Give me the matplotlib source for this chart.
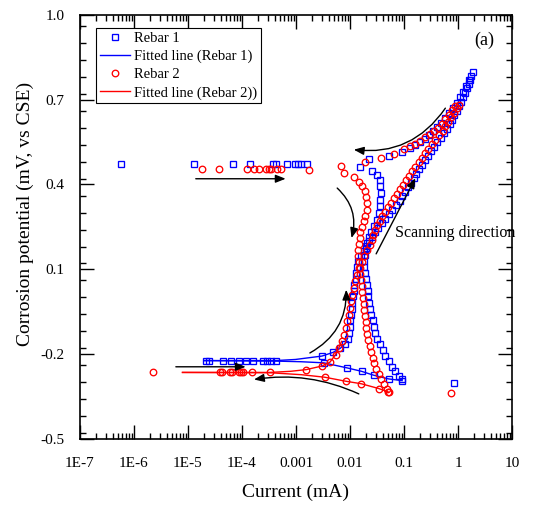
import numpy as np
import matplotlib
matplotlib.use("Agg")
import matplotlib.pyplot as plt
from matplotlib.ticker import FixedLocator, FixedFormatter, LogLocator, MultipleLocator, NullFormatter

plt.rcParams['font.family'] = ['Liberation Serif', 'DejaVu Serif']
plt.rcParams['axes.unicode_minus'] = False

# ---------------- data (log10 of current in mA, potential in V) ----------------
# Rebar 1
r1_passive_logi = [-6.242, -4.887, -4.172, -3.845, -3.432, -3.371, -3.168, -3.026, -2.965, -2.902, -2.798]
r1_passive_pot = [0.474] * 11
r1_flat_logi = [-4.671, -4.610, -4.351, -4.196, -4.055, -3.919, -3.789, -3.604, -3.530, -3.457, -3.377]
r1_flat_pot = [-0.224] * 11
r1_low_logi = [-2.484, -2.052, -1.787, -1.560, -1.283, -1.035, -0.081]
r1_low_pot = [-0.232, -0.250, -0.262, -0.276, -0.289, -0.295, -0.303]
r1_fwd_logi = [-2.518, -2.314, -2.176, -2.092, -2.046, -2.022, -2.004, -1.991, -1.978, -1.967, -1.954, -1.941,
               -1.930, -1.917, -1.898, -1.880, -1.867, -1.843, -1.797, -1.750, -1.695, -1.640, -1.584, -1.529,
               -1.479, -1.408, -1.344, -1.279, -1.214, -1.140, -1.081, -1.030, -0.978, -0.928, -0.876, -0.824,
               -0.771, -0.719, -0.665, -0.610, -0.555, -0.499, -0.444, -0.383, -0.322, -0.261, -0.198, -0.150,
               -0.109, -0.068, -0.026, 0.015, 0.052, 0.089, 0.126, 0.163, 0.200, 0.224, 0.248, 0.270]
r1_fwd_pot = [-0.208, -0.195, -0.180, -0.164, -0.146, -0.125, -0.104, -0.082, -0.061, -0.040, -0.019, 0.003,
              0.024, 0.045, 0.066, 0.087, 0.109, 0.128, 0.148, 0.165, 0.183, 0.199, 0.215, 0.231,
              0.247, 0.263, 0.278, 0.294, 0.310, 0.326, 0.342, 0.358, 0.374, 0.390, 0.406, 0.422,
              0.438, 0.454, 0.469, 0.485, 0.501, 0.517, 0.533, 0.549, 0.565, 0.581, 0.597, 0.613,
              0.629, 0.645, 0.660, 0.676, 0.692, 0.708, 0.724, 0.740, 0.756, 0.770, 0.784, 0.798]
r1_rev_logi = [0.209, 0.153, 0.098, 0.043, -0.022, -0.087, -0.161, -0.235, -0.309, -0.383, -0.457, -0.530,
               -0.604, -0.697, -0.789, -0.882, -1.035, -1.283, -1.652, -1.819, -1.590, -1.497, -1.449, -1.436,
               -1.427, -1.436, -1.449, -1.468, -1.497, -1.547, -1.603, -1.649, -1.682, -1.704, -1.723, -1.732,
               -1.732, -1.723, -1.704, -1.686, -1.671, -1.658, -1.640, -1.621, -1.603, -1.579, -1.556, -1.529,
               -1.492, -1.449, -1.394, -1.344, -1.283, -1.220, -1.159, -1.098, -1.035]
r1_rev_pot = [0.770, 0.749, 0.728, 0.708, 0.689, 0.671, 0.653, 0.636, 0.618, 0.602, 0.588, 0.574,
              0.561, 0.549, 0.538, 0.530, 0.516, 0.499, 0.490, 0.461, 0.448, 0.434, 0.416, 0.393,
              0.369, 0.346, 0.322, 0.299, 0.275, 0.251, 0.233, 0.213, 0.194, 0.173, 0.151, 0.130,
              0.109, 0.087, 0.066, 0.045, 0.024, 0.003, -0.019, -0.040, -0.061, -0.082, -0.104, -0.125,
              -0.146, -0.167, -0.188, -0.208, -0.227, -0.245, -0.261, -0.277, -0.291]
r1_fit_a_logi = [-4.708, -3.377, -3.007, -2.518, -2.314, -2.176, -2.092, -2.046]
r1_fit_a_pot = [-0.224, -0.224, -0.220, -0.208, -0.195, -0.180, -0.164, -0.146]
r1_fit_b_logi = [-4.708, -3.346, -2.915, -2.484, -2.052, -1.787, -1.560, -1.283, -1.035]
r1_fit_b_pot = [-0.224, -0.226, -0.228, -0.232, -0.250, -0.262, -0.276, -0.289, -0.295]

# Rebar 2
r2_passive_logi = [-4.745, -4.418, -3.913, -3.778, -3.678, -3.549, -3.506, -3.464, -3.346, -3.285, -2.754]
r2_passive_pot = [0.455, 0.455, 0.455, 0.455, 0.455, 0.455, 0.455, 0.455, 0.455, 0.455, 0.452]
r2_flat_logi = [-5.645, -4.407, -4.375, -4.222, -4.177, -4.055, -4.011, -3.974, -3.808, -3.488,
                -2.810, -2.514, -2.373]
r2_flat_pot = [-0.266, -0.266, -0.266, -0.266, -0.266, -0.266, -0.266, -0.266, -0.266, -0.266,
               -0.256, -0.243, -0.230]
r2_low_logi = [-2.466, -2.083, -1.793, -1.468, -1.294, -0.124]
r2_low_pot = [-0.283, -0.297, -0.306, -0.323, -0.335, -0.338]
r2_fwd_logi = [-2.268, -2.207, -2.157, -2.115, -2.083, -2.052, -2.022, -2.004, -1.978, -1.954, -1.930, -1.904,
               -1.871, -1.834, -1.787, -1.732, -1.677, -1.630, -1.593, -1.566, -1.538, -1.492, -1.445, -1.399,
               -1.349, -1.298, -1.246, -1.190, -1.135, -1.079, -1.024, -0.965, -0.906, -0.848, -0.789, -0.730,
               -0.671, -0.612, -0.549, -0.486, -0.420, -0.351, -0.287, -0.235, -0.181, -0.129, -0.076, -0.024, 0.011]
r2_fwd_pot = [-0.203, -0.179, -0.156, -0.132, -0.108, -0.085, -0.061, -0.037, -0.014, 0.010, 0.033, 0.057,
              0.080, 0.103, 0.126, 0.148, 0.169, 0.186, 0.204, 0.222, 0.240, 0.255, 0.271, 0.287,
              0.303, 0.319, 0.335, 0.351, 0.367, 0.383, 0.399, 0.415, 0.431, 0.446, 0.462, 0.478,
              0.494, 0.510, 0.526, 0.542, 0.558, 0.574, 0.590, 0.606, 0.622, 0.637, 0.653, 0.669, 0.682]
r2_rev_logi = [-0.050, -0.111, -0.174, -0.235, -0.299, -0.373, -0.447, -0.521, -0.604, -0.697, -0.789, -0.882,
               -1.006, -1.190, -1.423, -1.713, -2.163, -2.115, -1.930, -1.837, -1.774, -1.726, -1.695, -1.682,
               -1.682, -1.713, -1.745, -1.778, -1.806, -1.824, -1.837, -1.843, -1.843, -1.837, -1.824, -1.811,
               -1.800, -1.787, -1.774, -1.763, -1.750, -1.736, -1.721, -1.708, -1.695, -1.677, -1.658, -1.634,
               -1.608, -1.579, -1.547, -1.510, -1.468, -1.421, -1.372, -1.316, -1.270]
r2_rev_pot = [0.676, 0.662, 0.646, 0.630, 0.614, 0.600, 0.588, 0.577, 0.567, 0.554, 0.544, 0.535,
              0.525, 0.507, 0.493, 0.478, 0.466, 0.439, 0.426, 0.410, 0.393, 0.375, 0.357, 0.334,
              0.310, 0.287, 0.269, 0.250, 0.231, 0.209, 0.188, 0.167, 0.146, 0.125, 0.103, 0.082,
              0.061, 0.040, 0.018, -0.003, -0.024, -0.045, -0.066, -0.088, -0.109, -0.130, -0.151, -0.173,
              -0.194, -0.215, -0.234, -0.254, -0.273, -0.291, -0.307, -0.323, -0.335]
r2_fit_a_logi = [-5.102, -3.488, -3.100, -2.810, -2.514, -2.373, -2.268, -2.207, -2.157]
r2_fit_a_pot = [-0.266, -0.266, -0.262, -0.256, -0.243, -0.230, -0.203, -0.179, -0.156]
r2_fit_b_logi = [-5.102, -3.488, -2.900, -2.466, -2.083, -1.793, -1.468, -1.294]
r2_fit_b_pot = [-0.266, -0.267, -0.274, -0.283, -0.297, -0.306, -0.323, -0.335]

x_ticks = [1e-7, 1e-6, 1e-5, 1e-4, 1e-3, 1e-2, 1e-1, 1, 10]
x_tick_labels = ["1E-7", "1E-6", "1E-5", "1E-4", "0.001", "0.01", "0.1", "1", "10"]
y_ticks = [-0.5, -0.2, 0.1, 0.4, 0.7, 1.0]
y_tick_labels = ["-0.5", "-0.2", "0.1", "0.4", "0.7", "1.0"]

# arrows: (tail_logi, tail_pot, head_logi, head_pot, rad)
arrows = [
    (-0.234, 0.670, -1.930, 0.523, -0.3),
    (-4.856, 0.420, -3.192, 0.420, 0.0),
    (-2.237, 0.387, -1.972, 0.210, -0.3),
    (-1.516, 0.154, -0.789, 0.422, 0.0),
    (-2.743, -0.197, -2.070, 0.027, 0.3),
    (-5.225, -0.246, -3.932, -0.246, 0.0),
    (-1.837, -0.342, -3.778, -0.291, 0.15),
]

# ---------------- figure ----------------
fig = plt.figure(figsize=(5.39, 5.11), dpi=100)
ax = fig.add_axes([80 / 539, (511 - 438.5) / 511, (512 - 80) / 539, (438.5 - 15) / 511])

blue = '#0000ff'
red = '#ff0000'
sq = dict(marker='s', ms=4.3, mfc='none', mec=blue, mew=0.95, ls='none')
ci = dict(marker='o', ms=4.7, mfc='none', mec=red, mew=0.95, ls='none')

def p(v):
    return 10 ** np.asarray(v)

# Rebar 1
l1, = ax.plot(p(r1_fit_a_logi), r1_fit_a_pot, color=blue, lw=1.0)
ax.plot(p(r1_fit_b_logi), r1_fit_b_pot, color=blue, lw=1.0)
m1, = ax.plot(p(r1_fwd_logi), r1_fwd_pot, **sq)
ax.plot(p(r1_rev_logi), r1_rev_pot, **sq)
ax.plot(p(r1_passive_logi), r1_passive_pot, **sq)
ax.plot(p(r1_flat_logi), r1_flat_pot, **sq)
ax.plot(p(r1_low_logi), r1_low_pot, **sq)

# Rebar 2
l2, = ax.plot(p(r2_fit_a_logi), r2_fit_a_pot, color=red, lw=1.0)
ax.plot(p(r2_fit_b_logi), r2_fit_b_pot, color=red, lw=1.0)
m2, = ax.plot(p(r2_fwd_logi), r2_fwd_pot, **ci)
ax.plot(p(r2_rev_logi), r2_rev_pot, **ci)
ax.plot(p(r2_passive_logi), r2_passive_pot, **ci)
ax.plot(p(r2_flat_logi), r2_flat_pot, **ci)
ax.plot(p(r2_low_logi), r2_low_pot, **ci)

for tx, ty, hx, hy, rad in arrows:
    ax.annotate('', xy=(10 ** hx, hy), xytext=(10 ** tx, ty),
                arrowprops=dict(arrowstyle='-|>,head_length=0.5,head_width=0.2', color='black', lw=1.0,
                                mutation_scale=12, shrinkA=0, shrinkB=0,
                                connectionstyle=f'arc3,rad={rad}'))

ax.text(10 ** -1.159, 0.228, 'Scanning direction', fontsize=11.5, ha='left', va='center')
ax.text(10 ** 0.486, 0.909, '(a)', fontsize=13, ha='center', va='center')

ax.set_xscale('log')
ax.set_xlim(1e-7, 10)
ax.set_ylim(-0.5, 1.0)
ax.xaxis.set_major_locator(FixedLocator(x_ticks))
ax.xaxis.set_major_formatter(FixedFormatter(x_tick_labels))
ax.xaxis.set_minor_locator(LogLocator(base=10, subs=np.arange(2, 10), numticks=20))
ax.xaxis.set_minor_formatter(NullFormatter())
ax.yaxis.set_major_locator(FixedLocator(y_ticks))
ax.yaxis.set_major_formatter(FixedFormatter(y_tick_labels))
ax.yaxis.set_minor_locator(MultipleLocator(0.06))

ax.tick_params(which='both', direction='in', top=True, right=True, width=1.0, labelsize=11)
ax.tick_params(axis='x', which='both', pad=13)
ax.tick_params(axis='y', which='both', pad=11)
ax.tick_params(which='major', length=10)
ax.tick_params(which='minor', length=4.5)
for s in ax.spines.values():
    s.set_linewidth(1.2)

ax.set_xlabel('Current (mA)', fontsize=14)
ax.set_ylabel('Corrosion potential (mV, vs CSE)', fontsize=14)
ax.xaxis.set_label_coords(0.5, -0.107)
ax.yaxis.set_label_coords(-0.107, 0.531)

leg = ax.legend([m1, l1, m2, l2],
                ['Rebar 1', 'Fitted line (Rebar 1)', 'Rebar 2', 'Fitted line (Rebar 2))'],
                loc='upper left', bbox_to_anchor=(0.037, 0.969), fontsize=10.5,
                frameon=True, fancybox=False, framealpha=1, edgecolor='black',
                borderpad=0.25, labelspacing=0.33, handlelength=2.1, handletextpad=0.25,
                borderaxespad=0, numpoints=1)
leg.get_frame().set_linewidth(0.8)

fig.savefig('out.png', dpi=100)
